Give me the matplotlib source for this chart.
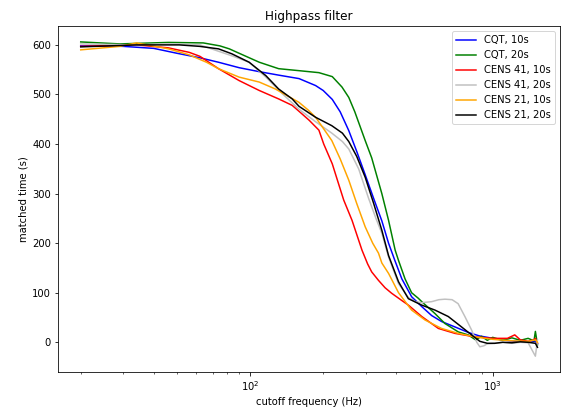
import matplotlib
matplotlib.use('Agg')
import matplotlib.pyplot as plt

# cutoff frequencies (Hz) and matched time (s)
cqt10_f = [20, 25, 30, 40, 50, 62, 74, 90, 109, 131, 159, 186, 200, 218, 235,
           255, 275, 298, 323, 349, 372, 395, 422, 463, 510, 560, 615, 699,
           792, 880, 1000, 1086, 1230, 1400, 1500, 1530]
cqt10_v = [598, 598, 597, 593, 583, 574, 565, 554, 546, 539, 532, 518, 508, 490, 465,
           427, 385, 338, 290, 245, 200, 165, 128, 92, 72, 54, 42, 31,
           20, 13, 8, 5, 2, 0, 2, -3]

cqt20_f = [20, 29, 46, 64, 75, 82, 95, 109, 131, 159, 192, 218, 239, 255, 270,
           298, 317, 349, 372, 396, 409, 435, 463, 493, 510, 578, 635, 721,
           792, 850, 900, 950, 1000, 1100, 1200, 1300, 1400, 1480, 1500, 1530]
cqt20_v = [606, 602, 605, 604, 598, 592, 578, 565, 552, 548, 544, 536, 515, 494, 465,
           407, 372, 300, 246, 186, 165, 128, 100, 89, 82, 58, 38, 21,
           15, 5, 12, 4, 10, 4, 9, 4, 8, 3, 22, -5]

cens41_10_f = [20, 34, 46, 56, 62, 74, 90, 109, 131, 149, 159, 175, 192, 201, 218,
               232, 243, 263, 289, 305, 317, 338, 360, 383, 420, 449, 510, 597,
               699, 844, 1000, 1150, 1233, 1300, 1400, 1480, 1500, 1530]
cens41_10_v = [597, 600, 594, 585, 577, 552, 528, 508, 491, 478, 466, 448, 428, 400, 360,
               318, 287, 246, 186, 158, 142, 125, 110, 99, 85, 75, 52, 28,
               18, 11, 8, 8, 15, 5, 2, 5, 8, -2]

cens41_20_f = [20, 34, 46, 62, 84, 99, 116, 136, 159, 186, 217, 240, 255, 280, 308,
               330, 349, 372, 409, 450, 480, 510, 560, 600, 636, 680, 720, 768,
               818, 860, 885, 920, 950, 1020, 1100, 1200, 1300, 1400, 1500, 1530]
cens41_20_v = [602, 600, 602, 600, 578, 565, 535, 501, 470, 445, 422, 405, 390, 350, 290,
               250, 220, 172, 118, 90, 82, 80, 82, 86, 87, 86, 78, 52,
               25, 0, -9, -7, -3, -2, 0, -2, 0, -1, -28, 5]

cens21_10_f = [20, 29, 34, 46, 56, 66, 74, 90, 109, 127, 159, 174, 186, 200, 217,
               235, 255, 275, 298, 320, 338, 349, 372, 409, 463, 526, 615, 721,
               844, 1000, 1200, 1400, 1500, 1530]
cens21_10_v = [590, 597, 604, 592, 580, 565, 552, 535, 525, 511, 484, 468, 454, 432, 407,
               370, 327, 280, 233, 200, 180, 160, 139, 100, 65, 45, 28, 18,
               11, 6, 3, 2, 5, 0]

cens21_20_f = [20, 34, 51, 62, 74, 84, 99, 116, 131, 149, 159, 186, 217, 240, 255,
               275, 298, 323, 349, 372, 409, 449, 510, 578, 656, 744, 818, 885,
               950, 1020, 1100, 1200, 1300, 1400, 1500, 1530]
cens21_20_v = [596, 600, 600, 597, 592, 582, 565, 538, 511, 491, 476, 454, 437, 422, 405,
               375, 333, 280, 226, 175, 122, 88, 75, 65, 52, 31, 15, 2,
               -2, -2, 0, -1, 1, 0, -2, -10]

fig = plt.figure(figsize=(562 / 72, 416 / 72), dpi=72)
ax = fig.add_subplot(111)
ax.plot(cqt10_f, cqt10_v, color='blue', label='CQT, 10s')
ax.plot(cqt20_f, cqt20_v, color='green', label='CQT, 20s')
ax.plot(cens41_10_f, cens41_10_v, color='red', label='CENS 41, 10s')
ax.plot(cens41_20_f, cens41_20_v, color='silver', label='CENS 41, 20s')
ax.plot(cens21_10_f, cens21_10_v, color='orange', label='CENS 21, 10s')
ax.plot(cens21_20_f, cens21_20_v, color='black', label='CENS 21, 20s')
ax.set_xscale('log')
ax.set_xlabel('cutoff frequency (Hz)')
ax.set_ylabel('matched time (s)')
ax.set_title('Highpass filter')
ax.legend(loc='upper right')

fig.subplots_adjust(left=0.103, right=0.997, top=0.937, bottom=0.106)
fig.savefig('out.png', dpi=72)
